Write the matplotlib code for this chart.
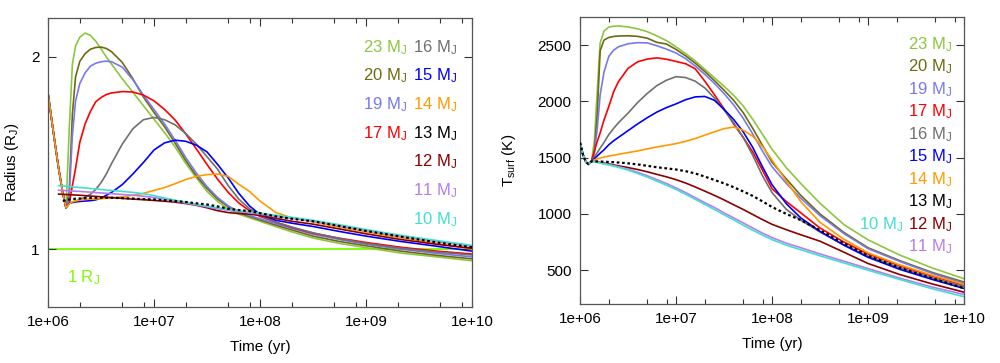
import matplotlib
matplotlib.use("Agg")
import matplotlib.pyplot as plt
import numpy as np
from matplotlib.ticker import FixedLocator, NullFormatter

nan = float("nan")

# ── data: radius panel (log10 of time in yr) ─────────────────────────────
log_t_radius = [6.00, 6.05, 6.10, 6.14, 6.17, 6.20, 6.23, 6.26, 6.30, 6.35,
                6.40, 6.45, 6.50, 6.55, 6.60, 6.70, 6.80, 6.90, 7.00, 7.10,
                7.20, 7.30, 7.40, 7.50, 7.60, 7.70, 7.80, 7.90, 8.00, 8.15,
                8.30, 8.50, 8.75, 9.00, 9.33, 9.67, 10.00]
radius_head = [1.81, 1.61, 1.42, 1.29, 1.215]

radius_23 = radius_head + [1.62, 1.96, 2.055, 2.10, 2.122, 2.11, 2.08, 2.04, 1.998, 1.96,
                           1.885, 1.815, 1.745, 1.675, 1.605, 1.53, 1.445, 1.37, 1.30, 1.248,
                           1.207, 1.182, 1.163, 1.145, 1.117, 1.09, 1.058, 1.03, 1.008, 0.98,
                           0.96, 0.94]
radius_20 = radius_head + [1.30, 1.70, 1.895, 1.975, 2.015, 2.038, 2.047, 2.049, 2.042, 2.025,
                           1.97, 1.885, 1.79, 1.71, 1.635, 1.55, 1.46, 1.38, 1.315, 1.26,
                           1.22, 1.19, 1.17, 1.152, 1.125, 1.10, 1.068, 1.04, 1.018, 0.99,
                           0.968, 0.95]
radius_19 = radius_head + [1.27, 1.59, 1.77, 1.86, 1.915, 1.95, 1.965, 1.973, 1.976, 1.973,
                           1.945, 1.88, 1.80, 1.725, 1.65, 1.565, 1.475, 1.395, 1.325, 1.268,
                           1.225, 1.195, 1.175, 1.158, 1.132, 1.108, 1.078, 1.05, 1.026, 1.0,
                           0.978, 0.96]
radius_17 = radius_head + [1.235, 1.33, 1.42, 1.555, 1.65, 1.715, 1.765, 1.787, 1.803, 1.811,
                           1.818, 1.816, 1.80, 1.77, 1.725, 1.67, 1.598, 1.52, 1.44, 1.363,
                           1.295, 1.24, 1.20, 1.17, 1.14, 1.113, 1.083, 1.057, 1.035, 1.01,
                           0.99, 0.975]
radius_16 = radius_head + [1.24, 1.245, 1.25, 1.258, 1.27, 1.285, 1.31, 1.345, 1.39, 1.445,
                           1.545, 1.625, 1.672, 1.684, 1.672, 1.645, 1.60, 1.545, 1.48, 1.415,
                           1.33, 1.26, 1.21, 1.175, 1.14, 1.115, 1.085, 1.055, 1.03, 1.005,
                           0.985, 0.97]
radius_15 = radius_head + [1.238, 1.242, 1.245, 1.248, 1.25, 1.252, 1.256, 1.265, 1.28, 1.295,
                           1.335, 1.39, 1.45, 1.515, 1.552, 1.566, 1.56, 1.54, 1.505, 1.44,
                           1.37, 1.29, 1.225, 1.18, 1.15, 1.135, 1.118, 1.092, 1.068, 1.04,
                           1.015, 0.99]
radius_14 = radius_head + [1.235, 1.245, 1.25, 1.255, 1.258, 1.26, 1.261, 1.262, 1.264, 1.266,
                           1.272, 1.28, 1.29, 1.305, 1.32, 1.34, 1.362, 1.378, 1.387, 1.39,
                           1.378, 1.337, 1.30, 1.25, 1.19, 1.163, 1.142, 1.115, 1.09, 1.06,
                           1.03, 1.0]
radius_13 = [nan, nan, nan, 1.25, 1.255, 1.258, 1.26, 1.262, 1.263, 1.265,
             1.266, 1.267, 1.267, 1.267, 1.267, 1.265, 1.263, 1.26, 1.258, 1.254,
             1.25, 1.245, 1.238, 1.232, 1.222, 1.21, 1.203, 1.198, 1.187, 1.17,
             1.158, 1.145, 1.12, 1.095, 1.065, 1.035, 1.01]
radius_12 = [nan, nan, 1.286, 1.285, 1.284, 1.283, 1.282, 1.281, 1.28, 1.278,
             1.276, 1.274, 1.272, 1.27, 1.268, 1.264, 1.26, 1.257, 1.253, 1.249,
             1.244, 1.237, 1.228, 1.215, 1.20, 1.19, 1.185, 1.182, 1.175, 1.16,
             1.145, 1.13, 1.105, 1.08, 1.05, 1.025, 1.005]
radius_11 = [nan, nan, 1.306, 1.305, 1.304, 1.303, 1.302, 1.301, 1.30, 1.298,
             1.296, 1.294, 1.292, 1.29, 1.288, 1.284, 1.28, 1.275, 1.268, 1.26,
             1.25, 1.24, 1.23, 1.22, 1.21, 1.202, 1.196, 1.19, 1.182, 1.17,
             1.16, 1.146, 1.122, 1.097, 1.067, 1.04, 1.015]
radius_10 = [nan, nan, 1.33, 1.328, 1.327, 1.325, 1.324, 1.322, 1.32, 1.318,
             1.315, 1.313, 1.31, 1.307, 1.305, 1.30, 1.295, 1.288, 1.278, 1.266,
             1.254, 1.243, 1.233, 1.224, 1.215, 1.207, 1.20, 1.194, 1.187, 1.176,
             1.165, 1.15, 1.127, 1.102, 1.072, 1.045, 1.02]

# ── data: surface temperature panel ─────────────────────────────────────
log_t_temp = [6.00, 6.03, 6.06, 6.09, 6.12, 6.15, 6.18, 6.21, 6.25, 6.30,
              6.35, 6.40, 6.50, 6.60, 6.70, 6.80, 6.90, 7.00, 7.10, 7.20,
              7.30, 7.40, 7.50, 7.60, 7.70, 7.80, 7.90, 8.00, 8.15, 8.30,
              8.50, 8.75, 9.00, 9.33, 9.67, 10.00]
temp_head = [1635, 1530, 1462, 1442, 1468]

temp_23 = temp_head + [1650, 2100, 2520, 2625, 2660, 2668, 2670, 2662, 2645, 2620,
                       2582, 2540, 2485, 2425, 2360, 2285, 2210, 2135, 2055, 1960,
                       1840, 1710, 1575, 1410, 1270, 1095, 905, 770, 635, 520, 425]
temp_20 = temp_head + [1560, 1900, 2450, 2545, 2568, 2577, 2581, 2583, 2578, 2562,
                       2525, 2510, 2462, 2405, 2340, 2265, 2185, 2100, 2010, 1900,
                       1760, 1610, 1460, 1310, 1165, 1000, 835, 700, 585, 480, 395]
temp_19 = temp_head + [1540, 1760, 2060, 2260, 2400, 2455, 2485, 2512, 2522, 2520,
                       2495, 2465, 2430, 2380, 2315, 2240, 2160, 2070, 1970, 1850,
                       1710, 1560, 1420, 1270, 1140, 985, 825, 692, 578, 472, 385]
temp_17 = temp_head + [1560, 1645, 1720, 1835, 1955, 2085, 2175, 2293, 2352, 2376,
                       2387, 2375, 2355, 2335, 2290, 2180, 2060, 1935, 1800, 1680,
                       1550, 1390, 1225, 1110, 1010, 875, 750, 645, 540, 448, 368]
temp_16 = temp_head + [1505, 1545, 1585, 1635, 1705, 1760, 1810, 1895, 1990, 2070,
                       2140, 2188, 2220, 2212, 2180, 2120, 2030, 1925, 1810, 1680,
                       1520, 1340, 1190, 1040, 945, 840, 725, 625, 522, 432, 355]
temp_15 = temp_head + [1490, 1515, 1540, 1570, 1615, 1650, 1680, 1740, 1800, 1855,
                       1905, 1945, 1978, 2015, 2040, 2044, 2010, 1930, 1840, 1730,
                       1590, 1420, 1260, 1090, 965, 845, 722, 615, 508, 418, 338]
temp_14 = temp_head + [1480, 1490, 1497, 1505, 1515, 1522, 1530, 1545, 1560, 1578,
                       1595, 1610, 1625, 1645, 1670, 1700, 1730, 1758, 1772, 1745,
                       1690, 1600, 1480, 1290, 1110, 925, 775, 655, 548, 455, 375]
temp_13 = temp_head + [1468, 1467, 1466, 1464, 1462, 1460, 1457, 1450, 1440, 1428,
                       1415, 1405, 1395, 1380, 1360, 1332, 1302, 1272, 1238, 1200,
                       1160, 1112, 1062, 1000, 945, 855, 738, 628, 522, 428, 340]
temp_12 = temp_head + [1466, 1462, 1458, 1452, 1445, 1436, 1428, 1412, 1395, 1375,
                       1352, 1330, 1305, 1275, 1240, 1203, 1165, 1125, 1082, 1040,
                       995, 950, 908, 860, 815, 758, 660, 560, 462, 378, 305]
temp_11 = temp_head + [1465, 1460, 1455, 1448, 1440, 1430, 1420, 1398, 1370, 1340,
                       1305, 1270, 1232, 1190, 1145, 1100, 1058, 1010, 965, 920,
                       875, 830, 790, 740, 700, 645, 580, 515, 430, 350, 285]
temp_10 = temp_head + [1464, 1458, 1452, 1444, 1435, 1425, 1414, 1390, 1360, 1328,
                       1292, 1256, 1218, 1175, 1130, 1085, 1040, 993, 948, 900,
                       855, 812, 772, 722, 682, 628, 565, 500, 418, 335, 265]

masses = [23, 20, 19, 17, 16, 15, 14, 13, 12, 11, 10]
colors = ["#8cc63f", "#6e6a12", "#7878f0", "#ff0000", "#707070", "#0000ff",
          "#ff9900", "#000000", "#8b0000", "#b77cf0", "#40e0d0"]
radius_series = [radius_23, radius_20, radius_19, radius_17, radius_16, radius_15,
                 radius_14, radius_13, radius_12, radius_11, radius_10]
temp_series = [temp_23, temp_20, temp_19, temp_17, temp_16, temp_15,
               temp_14, temp_13, temp_12, temp_11, temp_10]

plt.rcParams["font.family"] = ["Liberation Sans", "DejaVu Sans"]
plt.rcParams["mathtext.fontset"] = "custom"
plt.rcParams["mathtext.rm"] = "Liberation Sans"
plt.rcParams["mathtext.it"] = "Liberation Sans:italic"
plt.rcParams["font.size"] = 11

fig = plt.figure(figsize=(10, 3.63), dpi=100)
ax_r = fig.add_axes([0.048, 1 - 307 / 363, 0.424, 289 / 363])
ax_t = fig.add_axes([0.580, 1 - 304 / 363, 0.384, 287 / 363])


def style_axis(ax):
    ax.set_xscale("log")
    ax.set_xlim(1e6, 1e10)
    ax.xaxis.set_major_locator(FixedLocator([1e6, 1e7, 1e8, 1e9, 1e10]))
    ax.set_xticklabels(["1e+06", "1e+07", "1e+08", "1e+09", "1e+10"])
    minors = [m * 10.0 ** e for e in range(6, 10) for m in (2, 5, 8)]
    ax.xaxis.set_minor_locator(FixedLocator(minors))
    ax.xaxis.set_minor_formatter(NullFormatter())
    ax.tick_params(which="both", direction="in", top=True, right=True,
                   color="#333333", labelsize=11, pad=6)
    ax.tick_params(which="major", length=6, width=0.8)
    ax.tick_params(which="minor", length=3.5, width=0.8)
    for sp in ax.spines.values():
        sp.set_color("#555555")
        sp.set_linewidth(0.9)
    ax.set_xlabel("Time (yr)", fontsize=11, labelpad=8)


def draw(ax, log_t, series):
    t = 10.0 ** np.array(log_t)
    for m, c, y in zip(masses, colors, series):
        if m == 13:
            ax.plot(t, y, color=c, lw=1.6, ls=(0, (1.2, 1.2)), zorder=3)
        else:
            ax.plot(t, y, color=c, lw=1.2, zorder=2)


# ── radius panel ─────────────────────────────────────────────────────────
style_axis(ax_r)
draw(ax_r, log_t_radius, radius_series)
ax_r.axhline(1.0, color="#7cfc00", lw=1.3, zorder=1)
ax_r.text(0.045, 0.0865, "1 R$_\\mathrm{J}$", transform=ax_r.transAxes,
          color="#7cfc00", fontsize=12, ha="left", va="baseline")
ax_r.set_ylim(0.7, 2.2)
ax_r.yaxis.set_major_locator(FixedLocator([1, 2]))
ax_r.yaxis.set_minor_locator(FixedLocator([]))
ax_r.set_ylabel("Radius (R$_\\mathrm{J}$)", fontsize=11, labelpad=7)

col1 = [23, 20, 19, 17]
col2 = [16, 15, 14, 13, 12, 11, 10]
for i, m in enumerate(col1):
    ax_r.text(0.847, 0.883 - 0.0993 * i, f"{m} M$_\\mathrm{{J}}$", transform=ax_r.transAxes,
              color=colors[masses.index(m)], fontsize=12, ha="right", va="baseline")
for i, m in enumerate(col2):
    ax_r.text(0.964, 0.883 - 0.0993 * i, f"{m} M$_\\mathrm{{J}}$", transform=ax_r.transAxes,
              color=colors[masses.index(m)], fontsize=12, ha="right", va="baseline")

# ── temperature panel ────────────────────────────────────────────────────
style_axis(ax_t)
draw(ax_t, log_t_temp, temp_series)
ax_t.set_ylim(200, 2750)
ax_t.yaxis.set_major_locator(FixedLocator([500, 1000, 1500, 2000, 2500]))
ax_t.yaxis.set_minor_locator(FixedLocator([]))
ax_t.set_ylabel("T$_\\mathrm{surf}$ (K)", fontsize=11, labelpad=14)

right_col = [23, 20, 19, 17, 16, 15, 14, 13, 12, 11]
for i, m in enumerate(right_col):
    ax_t.text(0.968, 0.8875 - 0.0784 * i, f"{m} M$_\\mathrm{{J}}$", transform=ax_t.transAxes,
              color=colors[masses.index(m)], fontsize=12, ha="right", va="baseline")
ax_t.text(0.842, 0.8875 - 0.0784 * 8, "10 M$_\\mathrm{J}$", transform=ax_t.transAxes,
          color=colors[masses.index(10)], fontsize=12, ha="right", va="baseline")

fig.savefig("out.png", dpi=100)
